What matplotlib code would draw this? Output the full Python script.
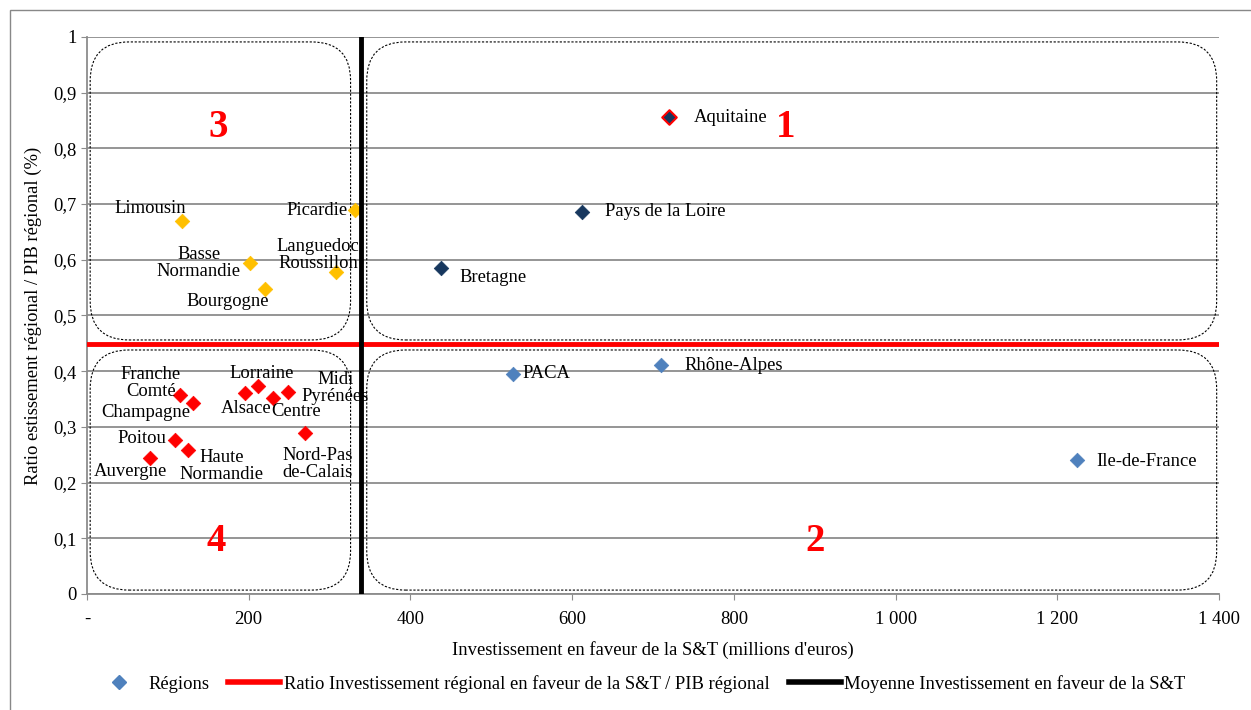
import numpy as np
import matplotlib
matplotlib.use("Agg")
import matplotlib.pyplot as plt
from matplotlib.patches import FancyBboxPatch, Rectangle
from matplotlib.lines import Line2D
from matplotlib.ticker import FuncFormatter

plt.rcParams['font.family'] = ['Liberation Serif', 'DejaVu Serif']

# regions: name, investment (M EUR), ratio (%)
names = ['Aquitaine', 'Pays de la Loire', 'Bretagne',
         'PACA', 'Rhône-Alpes', 'Ile-de-France',
         'Limousin', 'Picardie', 'Basse\nNormandie', 'Languedoc\nRoussillon', 'Bourgogne',
         'Franche\nComté', 'Champagne', 'Lorraine', 'Alsace', 'Centre', 'Midi\nPyrénées',
         'Nord-Pas\nde-Calais', 'Poitou', 'Haute\nNormandie', 'Auvergne']
invest = [720, 612, 438,
          527, 710, 1224,
          117, 331, 202, 308, 220,
          115, 131, 211, 195, 230, 249,
          270, 109, 125, 78]
ratio = [0.856, 0.686, 0.585,
         0.395, 0.411, 0.241,
         0.670, 0.689, 0.594, 0.578, 0.548,
         0.357, 0.343, 0.373, 0.361, 0.352, 0.363,
         0.289, 0.276, 0.259, 0.244]
quadrant = [1, 1, 1, 2, 2, 2, 3, 3, 3, 3, 3, 4, 4, 4, 4, 4, 4, 4, 4, 4, 4]
# label offsets in points (dx, dy) and horizontal alignment
offsets = [(18, 0, 'left'), (17, 0, 'left'), (13, -7, 'left'),
           (7, 0, 'left'), (17, 0, 'left'), (14, -1, 'left'),
           (3, 9, 'right'), (-5, 0, 'right'), (-37, 0, 'center'), (-13, 12, 'center'), (-27, -9, 'center'),
           (-21, 9, 'center'), (-34, -7, 'center'), (3, 9, 'center'), (1, -11, 'center'), (17, -10, 'center'),
           (34, 3, 'center'),
           (9, -22, 'center'), (-24, 1, 'center'), (24, -12, 'center'), (-14, -10, 'center')]

ratio_line = 0.449
mean_invest = 339

quad_colors = {1: '#17375E', 2: '#4F81BD', 3: '#FFC000', 4: '#FF0000'}
quad_labels = {1: (864, 0.837), 2: (900, 0.095), 3: (162, 0.837), 4: (160, 0.095)}
# quadrant frames: (x0, x1, y0, y1)
frames = [(4, 326, 0.456, 0.991), (346, 1397, 0.456, 0.991),
          (4, 326, 0.007, 0.438), (346, 1397, 0.007, 0.438)]

fs = 13.4

fig = plt.figure(figsize=(12.51, 7.10), dpi=100)
ax = fig.add_axes([0.0695, 0.1634, 0.905, 0.7846])
fig.patches.append(Rectangle((0.008, -0.01), 1.1, 0.996, transform=fig.transFigure,
                             fill=False, edgecolor='#888888', linewidth=1))

ax.set_xlim(0, 1400)
ax.set_ylim(0, 1)
ax.set_yticks(np.arange(0, 1.01, 0.1))
ax.set_xticks(np.arange(0, 1401, 200))
ax.yaxis.set_major_formatter(FuncFormatter(lambda v, p: '0' if abs(v) < 1e-9 else ('1' if abs(v - 1) < 1e-9 else ('%.1f' % v).replace('.', ','))))
ax.xaxis.set_major_formatter(FuncFormatter(lambda v, p: '-' if v == 0 else '{:,.0f}'.format(v).replace(',', ' ')))
ax.grid(axis='y', color='#8c8c8c', linewidth=1.3)
ax.set_axisbelow(True)
for s in ['top', 'right']:
    ax.spines[s].set_visible(False)
for s in ['left', 'bottom']:
    ax.spines[s].set_color('#8c8c8c')
    ax.spines[s].set_linewidth(1.3)
ax.tick_params(axis='both', colors='#8c8c8c', labelcolor='black', labelsize=fs, length=4)
ax.tick_params(axis='x', pad=8)

for x0, x1, y0, y1 in frames:
    ax.add_patch(FancyBboxPatch((x0, y0), x1 - x0, y1 - y0,
                                boxstyle='round,pad=0,rounding_size=48',
                                mutation_aspect=0.00145, fill=False,
                                linestyle=(0, (2, 1.5)), linewidth=0.8, edgecolor='black', zorder=1))

ax.plot([0, 1400], [ratio_line, ratio_line], color='#FF0000', linewidth=3.5, zorder=4)
ax.plot([mean_invest, mean_invest], [0, 1], color='black', linewidth=3.5, zorder=4)

for i, name in enumerate(names):
    c = quad_colors[quadrant[i]]
    ec = '#FF0000' if name == 'Aquitaine' else c
    ax.scatter(invest[i], ratio[i], marker='D', s=55, color=c, edgecolors=ec,
               linewidths=1.5 if name == 'Aquitaine' else 0.5, zorder=3)
    dx, dy, ha = offsets[i]
    ax.annotate(name, (invest[i], ratio[i]), xytext=(dx, dy), textcoords='offset points',
                ha=ha, va='center', fontsize=fs, multialignment='center', zorder=3,
                linespacing=1.0)

for q, (qx, qy) in quad_labels.items():
    ax.text(qx, qy, str(q), color='#FF0000', fontsize=28, fontweight='bold',
            ha='center', va='center')

ax.set_xlabel("Investissement en faveur de la S&T (millions d'euros)", fontsize=fs, labelpad=10)
ax.set_ylabel('Ratio estissement régional / PIB régional (%)', fontsize=fs, labelpad=8)

handles = [Line2D([], [], marker='D', color='#4F81BD', linestyle='none', markersize=7),
           Line2D([], [], color='#FF0000', linewidth=4),
           Line2D([], [], color='black', linewidth=4)]
fig.legend(handles, ['Régions', 'Ratio Investissement régional en faveur de la S&T / PIB régional',
                     'Moyenne Investissement en faveur de la S&T'],
           loc='center', bbox_to_anchor=(0.511, 0.037), ncol=3, frameon=False, fontsize=fs,
           handlelength=2.8, handletextpad=0.2, columnspacing=1.0)

fig.savefig('out.png', dpi=100)
